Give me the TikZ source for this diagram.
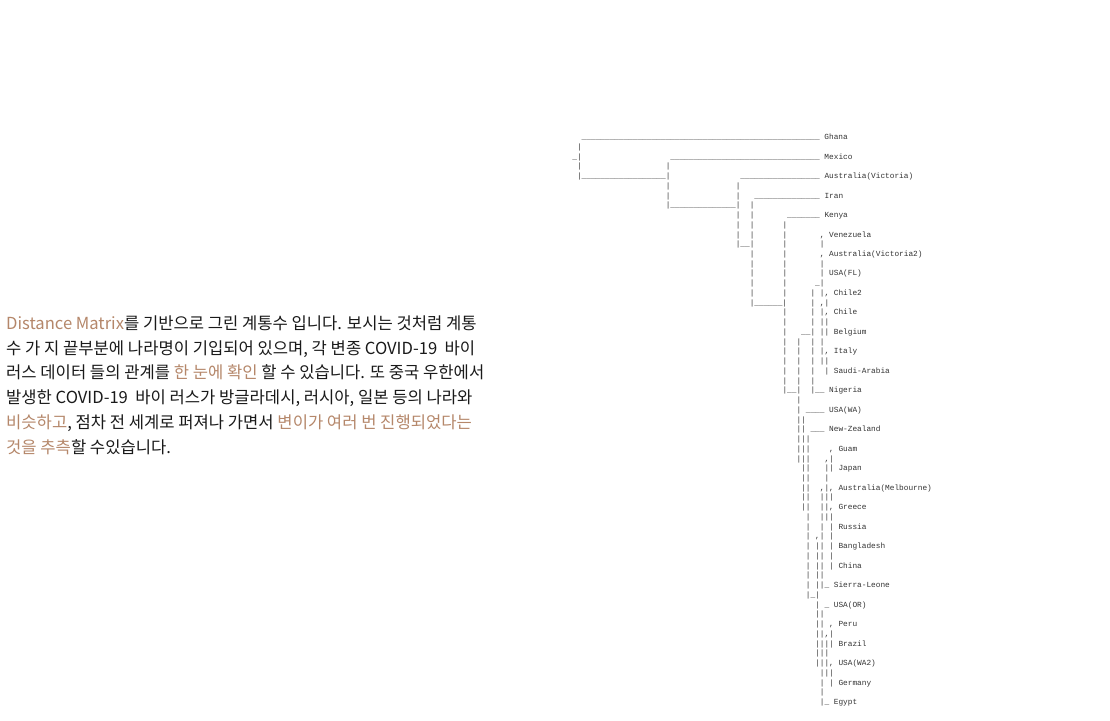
\documentclass[tikz,border=0pt]{standalone}
\usepackage{fontspec}
\usepackage{xcolor}
\newfontfamily\treefont{Liberation Mono}
\newfontfamily\krfont{Noto Sans CJK KR}
\definecolor{treegray}{HTML}{333333}
\definecolor{accentbrown}{HTML}{B5876A}
\definecolor{bodyblack}{HTML}{1A1A1A}
\ExplSyntaxOn
\cs_new:Npn \Rep #1#2 { \prg_replicate:nn {#1} {#2} }
\ExplSyntaxOff
\newlength\cw
\setlength\cw{4.6688pt}
\newcommand\Sp[1]{\hspace*{#1\cw}}
\newcommand\Us[1]{\Rep{#1}{\_}}
\newcommand\Hi[1]{\textcolor{accentbrown}{#1}}
\tikzset{
  treerow/.style={anchor=base west, inner sep=0pt, text=treegray,
    font=\treefont\fontsize{7.78}{9}\selectfont},
  krline/.style={anchor=base west, inner sep=0pt, text=bodyblack,
    font=\krfont\fontsize{16.6}{20}\selectfont}
}
\newcommand\trow[2]{\node[treerow] (r#1) at (572.2,{139.6+9.74*#1}) {#2};}
\begin{document}
\begin{tikzpicture}[x=1pt,y=-1pt]
\fill[white] (0,0) rectangle (1110,720);
\useasboundingbox (0,0) rectangle (1110,720);
% paragraph
\node[krline] (t1) at (6,329) {\Hi{Distance Matrix}를 기반으로 그린 계통수 입니다. 보시는 것처럼 계통};
\node[krline] (t2) at (6,354) {수 가 지 끝부분에 나라명이 기입되어 있으며, 각 변종 COVID-19\ \ 바이};
\node[krline] (t3) at (6,378) {러스 데이터 들의 관계를 \Hi{한 눈에 확인} 할 수 있습니다. 또 중국 우한에서};
\node[krline] (t4) at (6,403) {발생한 COVID-19\ \ 바이 러스가 방글라데시, 러시아, 일본 등의 나라와};
\node[krline] (t5) at (6,428) {\Hi{비슷하고}, 점차 전 세계로 퍼져나 가면서 \Hi{변이가 여러 번 진행되었다는}};
\node[krline] (t6) at (6,453) {\Hi{것을 추측}할 수있습니다.};
% tree
\trow{0}{\Sp{2}\Us{51}\Sp{1}Ghana}
\trow{1}{\Sp{1}|}
\trow{2}{\_|\Sp{19}\Us{32}\Sp{1}Mexico}
\trow{3}{\Sp{1}|\Sp{18}|}
\trow{4}{\Sp{1}|\Us{18}|\Sp{15}\Us{17}\Sp{1}Australia(Victoria)}
\trow{5}{\Sp{20}|\Sp{14}|}
\trow{6}{\Sp{20}|\Sp{14}|\Sp{3}\Us{14}\Sp{1}Iran}
\trow{7}{\Sp{20}|\Us{14}|\Sp{2}|}
\trow{8}{\Sp{35}|\Sp{2}|\Sp{7}\Us{7}\Sp{1}Kenya}
\trow{9}{\Sp{35}|\Sp{2}|\Sp{6}|}
\trow{10}{\Sp{35}|\Sp{2}|\Sp{6}|\Sp{7},\Sp{1}Venezuela}
\trow{11}{\Sp{35}|\Us{2}|\Sp{6}|\Sp{7}|}
\trow{12}{\Sp{38}|\Sp{6}|\Sp{7},\Sp{1}Australia(Victoria2)}
\trow{13}{\Sp{38}|\Sp{6}|\Sp{7}|}
\trow{14}{\Sp{38}|\Sp{6}|\Sp{7}|\Sp{1}USA(FL)}
\trow{15}{\Sp{38}|\Sp{6}|\Sp{6}\_|}
\trow{16}{\Sp{38}|\Sp{6}|\Sp{5}|\Sp{1}|,\Sp{1}Chile2}
\trow{17}{\Sp{38}|\Us{6}|\Sp{5}|\Sp{1},|}
\trow{18}{\Sp{45}|\Sp{5}|\Sp{1}|,\Sp{1}Chile}
\trow{19}{\Sp{45}|\Sp{5}|\Sp{1}||}
\trow{20}{\Sp{45}|\Sp{3}\Us{2}|\Sp{1}||\Sp{1}Belgium}
\trow{21}{\Sp{45}|\Sp{2}|\Sp{2}|\Sp{1}|}
\trow{22}{\Sp{45}|\Sp{2}|\Sp{2}|\Sp{1}|,\Sp{1}Italy}
\trow{23}{\Sp{45}|\Sp{2}|\Sp{2}|\Sp{1}||}
\trow{24}{\Sp{45}|\Sp{2}|\Sp{2}|\Sp{2}|\Sp{1}Saudi-Arabia}
\trow{25}{\Sp{45}|\Sp{2}|\Sp{2}|}
\trow{26}{\Sp{45}|\Us{2}|\Sp{2}|\Us{2}\Sp{1}Nigeria}
\trow{27}{\Sp{48}|}
\trow{28}{\Sp{48}|\Sp{1}\Us{4}\Sp{1}USA(WA)}
\trow{29}{\Sp{48}||}
\trow{30}{\Sp{48}||\Sp{1}\Us{3}\Sp{1}New-Zealand}
\trow{31}{\Sp{48}|||}
\trow{32}{\Sp{48}|||\Sp{4},\Sp{1}Guam}
\trow{33}{\Sp{48}|||\Sp{3},|}
\trow{34}{\Sp{49}||\Sp{3}||\Sp{1}Japan}
\trow{35}{\Sp{49}||\Sp{3}|}
\trow{36}{\Sp{49}||\Sp{2},|,\Sp{1}Australia(Melbourne)}
\trow{37}{\Sp{49}||\Sp{2}|||}
\trow{38}{\Sp{49}||\Sp{2}||,\Sp{1}Greece}
\trow{39}{\Sp{50}|\Sp{2}|||}
\trow{40}{\Sp{50}|\Sp{2}|\Sp{1}|\Sp{1}Russia}
\trow{41}{\Sp{50}|\Sp{1},|\Sp{1}|}
\trow{42}{\Sp{50}|\Sp{1}||\Sp{1}|\Sp{1}Bangladesh}
\trow{43}{\Sp{50}|\Sp{1}||\Sp{1}|}
\trow{44}{\Sp{50}|\Sp{1}||\Sp{1}|\Sp{1}China}
\trow{45}{\Sp{50}|\Sp{1}||}
\trow{46}{\Sp{50}|\Sp{1}||\_\Sp{1}Sierra-Leone}
\trow{47}{\Sp{50}|\_|}
\trow{48}{\Sp{52}|\Sp{1}\_\Sp{1}USA(OR)}
\trow{49}{\Sp{52}||}
\trow{50}{\Sp{52}||\Sp{1},\Sp{1}Peru}
\trow{51}{\Sp{52}||,|}
\trow{52}{\Sp{52}||||\Sp{1}Brazil}
\trow{53}{\Sp{52}|||}
\trow{54}{\Sp{52}|||,\Sp{1}USA(WA2)}
\trow{55}{\Sp{53}|||}
\trow{56}{\Sp{53}|\Sp{1}|\Sp{1}Germany}
\trow{57}{\Sp{53}|}
\trow{58}{\Sp{53}|\_\Sp{1}Egypt}
\end{tikzpicture}
\end{document}
